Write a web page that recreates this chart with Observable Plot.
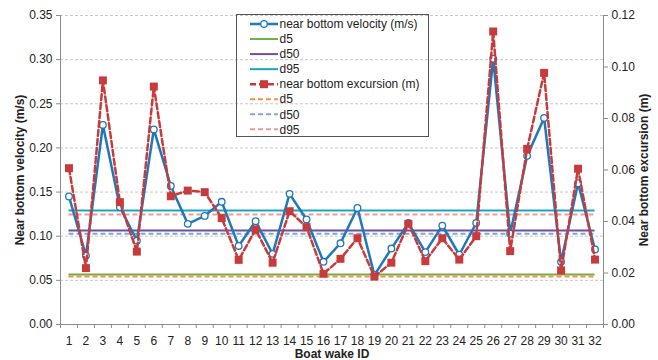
<!DOCTYPE html>
<html><head><meta charset="utf-8">
<script src="https://cdn.jsdelivr.net/npm/d3@7"></script>
<script src="https://cdn.jsdelivr.net/npm/@observablehq/plot@0.6"></script>
<style>
body{margin:0;background:#fff;font-family:"Liberation Sans",Arial,sans-serif}
#wrap{position:relative;width:658px;height:360px}
#legend{position:absolute;left:236px;top:14px}
</style>
</head><body><div id="wrap"></div>
<script>
// ---- data ----
const ids = [1,2,3,4,5,6,7,8,9,10,11,12,13,14,15,16,17,18,19,20,21,22,23,24,25,26,27,28,29,30,31,32];
const velocity = [0.145,0.078,0.226,0.133,0.095,0.221,0.157,0.114,0.123,0.139,0.089,0.117,0.080,0.148,0.119,0.071,0.092,0.132,0.056,0.086,0.115,0.082,0.112,0.079,0.115,0.301,0.103,0.191,0.234,0.071,0.160,0.085];
const excursion = [0.0607,0.0219,0.0948,0.0475,0.0283,0.0924,0.0498,0.0520,0.0514,0.0413,0.0251,0.0369,0.0240,0.0440,0.0378,0.0197,0.0255,0.0335,0.0186,0.0240,0.0391,0.0246,0.0335,0.0252,0.0343,0.1138,0.0285,0.0682,0.0977,0.0210,0.0605,0.0252];
const velRefs = [0.0566, 0.1065, 0.129];      // d5, d50, d95 velocity
const excRefs = [0.0186, 0.0352, 0.0427];     // d5, d50, d95 excursion
const velTicks = [0,0.05,0.10,0.15,0.20,0.25,0.30,0.35];
const excTicks = [0,0.02,0.04,0.06,0.08,0.10,0.12];
const legendLabels = ["near bottom velocity (m/s)","d5","d50","d95","near bottom excursion (m)","d5","d50","d95"];

// ---- styles ----
const blue = "#1f78b8", red = "#c83b3c";
const velRefColors = ["#72ad47","#6d4f9e","#1aa5bf"];
const excRefColors = ["#f5923e","#7fa7dc","#eb9b9b"];
const axisGray = "#8c8c8c";

const k = velTicks[velTicks.length-1] / excTicks[excTicks.length-1];
const data = ids.map((id,i)=>({id, v: velocity[i], e: excursion[i]*k}));
const first = ids[0], last = ids[ids.length-1];
const bounds = ids.map(d=>d-0.5).concat([last+0.5]);

const chart = Plot.plot({
  width: 658, height: 360,
  marginLeft: 60, marginRight: 55, marginTop: 15, marginBottom: 36,
  style: {fontFamily: '"Liberation Sans", Arial, sans-serif', fontSize: "12px", color: "#333", background: "white"},
  x: {domain: [first-0.5, last+0.5]},
  y: {domain: [velTicks[0], velTicks[velTicks.length-1]]},
  marks: [
    Plot.gridY(velTicks.slice(1), {stroke: "#c8c8c8", strokeOpacity: 1, strokeDasharray: "3,2"}),
    ...velRefs.map((v,i)=>Plot.ruleY([v], {x1: first, x2: last, stroke: velRefColors[i], strokeWidth: 2})),
    ...excRefs.map((v,i)=>Plot.ruleY([v*k], {x1: first, x2: last, stroke: excRefColors[i], strokeWidth: 2, strokeDasharray: "5,3"})),
    Plot.ruleX([first-0.5, last+0.5], {stroke: axisGray}),
    Plot.ruleY([0], {stroke: axisGray}),
    Plot.axisX(bounds, {tickSize: 4, tickFormat: ()=>"", stroke: axisGray, label: null}),
    Plot.axisX(ids, {tickSize: 0, tickPadding: 12, fill: "#222", label: "Boat wake ID", labelAnchor: "center", labelArrow: "none", labelOffset: 33}),
    Plot.axisY(velTicks, {anchor: "left", tickSize: 4, tickPadding: 4, stroke: axisGray, fill: "#222", tickFormat: d3.format(".2f"),
      label: "Near bottom velocity (m/s)", labelAnchor: "center", labelArrow: "none", labelOffset: 45}),
    Plot.axisY(excTicks.map(d=>d*k), {anchor: "right", tickSize: 4, tickPadding: 4, stroke: axisGray, fill: "#222", tickFormat: d=>(d/k).toFixed(2),
      label: "Near bottom excursion (m)", labelAnchor: "center", labelArrow: "none", labelOffset: 44}),
    Plot.line(data, {x: "id", y: "v", stroke: blue, strokeWidth: 2.5}),
    Plot.dot(data, {x: "id", y: "v", r: 3.3, fill: "white", stroke: blue, strokeWidth: 1.3}),
    Plot.line(data, {x: "id", y: "e", stroke: red, strokeWidth: 2.5, strokeDasharray: "6,3"}),
    Plot.dot(data, {x: "id", y: "e", symbol: "square", r: 4.5, fill: red, stroke: "none"})
  ]
});
chart.querySelectorAll('[aria-label$="axis label"]').forEach(g=>{ g.setAttribute("font-weight","bold"); g.setAttribute("fill","#222"); });
const wrap = document.getElementById("wrap");
wrap.appendChild(chart);

// ---- legend ----
const ns = "http://www.w3.org/2000/svg";
const lg = document.createElementNS(ns, "svg");
lg.setAttribute("id","legend"); lg.setAttribute("width","194"); lg.setAttribute("height","124");
lg.style.position="absolute"; lg.style.left="236px"; lg.style.top="14px";
const box = document.createElementNS(ns,"rect");
box.setAttribute("x","0.5"); box.setAttribute("y","0.5"); box.setAttribute("width","192"); box.setAttribute("height","122");
box.setAttribute("fill","none"); box.setAttribute("stroke","#555"); lg.appendChild(box);
const swColors = [blue, ...velRefColors, red, ...excRefColors];
legendLabels.forEach((lab,i)=>{
  const y = 10 + i*15.05;
  const dashed = i>=4;
  const ln = document.createElementNS(ns,"line");
  ln.setAttribute("x1","14"); ln.setAttribute("x2","42"); ln.setAttribute("y1",y); ln.setAttribute("y2",y);
  ln.setAttribute("stroke", swColors[i]); ln.setAttribute("stroke-width", (i===0||i===4)?"2.5":"2");
  if (dashed) ln.setAttribute("stroke-dasharray", i===4 ? "6,3" : "5,3");
  lg.appendChild(ln);
  if (i===0){
    const c = document.createElementNS(ns,"circle");
    c.setAttribute("cx","28"); c.setAttribute("cy",y); c.setAttribute("r","3.3");
    c.setAttribute("fill","white"); c.setAttribute("stroke",blue); c.setAttribute("stroke-width","1.3"); lg.appendChild(c);
  }
  if (i===4){
    const s = document.createElementNS(ns,"rect");
    s.setAttribute("x","24"); s.setAttribute("y",y-4); s.setAttribute("width","8"); s.setAttribute("height","8");
    s.setAttribute("fill",red); lg.appendChild(s);
  }
  const t = document.createElementNS(ns,"text");
  t.setAttribute("x","43.5"); t.setAttribute("y",y); t.setAttribute("dy","0.35em");
  t.setAttribute("font-size","12"); t.setAttribute("fill","#222");
  t.setAttribute("font-family",'"Liberation Sans", Arial, sans-serif');
  t.textContent = lab; lg.appendChild(t);
});
wrap.appendChild(lg);
</script>
</body></html>
